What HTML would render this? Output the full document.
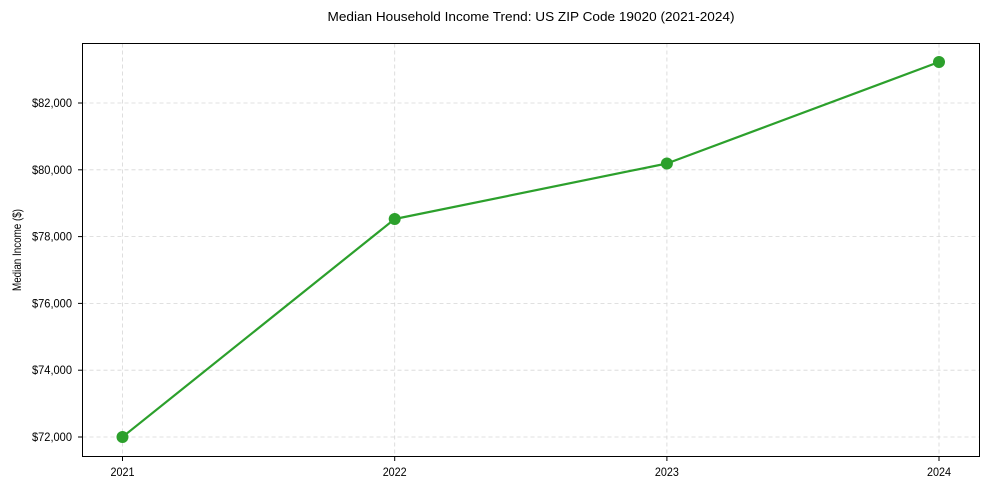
<!DOCTYPE html>
<html><head><meta charset="utf-8"><style>body{margin:0;background:#fff}svg{display:block;font-family:"Liberation Sans",Arial,sans-serif}</style></head>
<body><svg width="989" height="490" viewBox="0 0 989 490">
<rect width="989" height="490" fill="#fff"/>
<g stroke="#cccccc" stroke-width="0.8" stroke-dasharray="4,3" opacity="0.8">
<line x1="122.5" y1="43.5" x2="122.5" y2="456.5"/>
<line x1="394.7" y1="43.5" x2="394.7" y2="456.5"/>
<line x1="666.9" y1="43.5" x2="666.9" y2="456.5"/>
<line x1="939" y1="43.5" x2="939" y2="456.5"/>
<line x1="82.5" y1="437" x2="979.5" y2="437"/>
<line x1="82.5" y1="370.2" x2="979.5" y2="370.2"/>
<line x1="82.5" y1="303.4" x2="979.5" y2="303.4"/>
<line x1="82.5" y1="236.6" x2="979.5" y2="236.6"/>
<line x1="82.5" y1="169.8" x2="979.5" y2="169.8"/>
<line x1="82.5" y1="103" x2="979.5" y2="103"/>
</g>
<rect x="82.5" y="43.5" width="897" height="413" fill="none" stroke="#000" stroke-width="1"/>
<g stroke="#000" stroke-width="1">
<line x1="78" y1="437" x2="82.5" y2="437"/><line x1="78" y1="370.2" x2="82.5" y2="370.2"/><line x1="78" y1="303.4" x2="82.5" y2="303.4"/><line x1="78" y1="236.6" x2="82.5" y2="236.6"/><line x1="78" y1="169.8" x2="82.5" y2="169.8"/><line x1="78" y1="103" x2="82.5" y2="103"/>
<line x1="122.5" y1="456.5" x2="122.5" y2="461"/><line x1="394.7" y1="456.5" x2="394.7" y2="461"/><line x1="666.9" y1="456.5" x2="666.9" y2="461"/><line x1="939" y1="456.5" x2="939" y2="461"/>
</g>
<g font-size="12" fill="#000" text-anchor="end">
<text x="72" y="441" textLength="40" lengthAdjust="spacingAndGlyphs">$72,000</text>
<text x="72" y="374.2" textLength="40" lengthAdjust="spacingAndGlyphs">$74,000</text>
<text x="72" y="307.4" textLength="40" lengthAdjust="spacingAndGlyphs">$76,000</text>
<text x="72" y="240.6" textLength="40" lengthAdjust="spacingAndGlyphs">$78,000</text>
<text x="72" y="173.8" textLength="40" lengthAdjust="spacingAndGlyphs">$80,000</text>
<text x="72" y="107" textLength="40" lengthAdjust="spacingAndGlyphs">$82,000</text>
</g>
<g font-size="12" fill="#000" text-anchor="middle">
<text x="122.5" y="476" textLength="24" lengthAdjust="spacingAndGlyphs">2021</text><text x="394.7" y="476" textLength="24" lengthAdjust="spacingAndGlyphs">2022</text><text x="666.9" y="476" textLength="24" lengthAdjust="spacingAndGlyphs">2023</text><text x="939" y="476" textLength="24" lengthAdjust="spacingAndGlyphs">2024</text>
</g>
<text transform="translate(21,250) rotate(-90)" font-size="12" text-anchor="middle" textLength="82" lengthAdjust="spacingAndGlyphs">Median Income ($)</text>
<text x="531" y="21" font-size="13" text-anchor="middle" textLength="407" lengthAdjust="spacingAndGlyphs">Median Household Income Trend: US ZIP Code 19020 (2021-2024)</text>
<polyline points="122.5,437 394.7,219 666.9,163.5 939,62" fill="none" stroke="#2ca02c" stroke-width="2.2" stroke-linejoin="round"/>
<g fill="#2ca02c"><circle cx="122.5" cy="437" r="6"/><circle cx="394.7" cy="219" r="6"/><circle cx="666.9" cy="163.5" r="6"/><circle cx="939" cy="62" r="6"/></g>
</svg></body></html>
